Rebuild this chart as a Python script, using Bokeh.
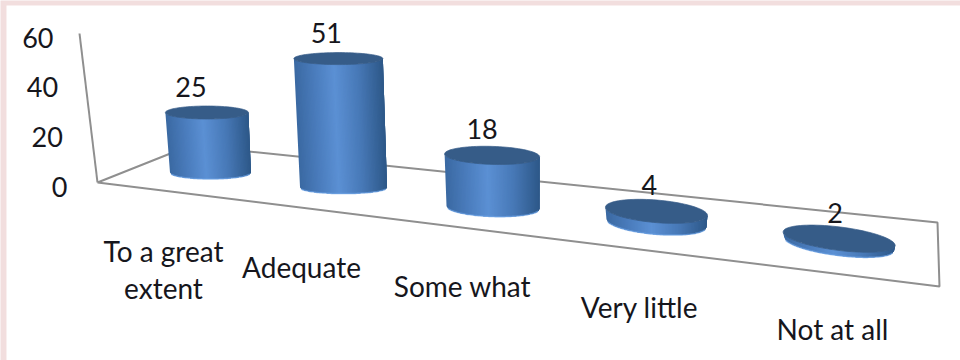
import numpy as np
from bokeh.embed import file_html
from bokeh.models import Range1d
from bokeh.plotting import figure
from bokeh.resources import INLINE
from bokeh.core.properties import value

# ---- data ----
categories = ["To a great\nextent", "Adequate", "Some what", "Very little", "Not at all"]
values = [25, 51, 18, 4, 2]
y_ticks = [0, 20, 40, 60]

# ---- layout (pixel-like scene space of the 3-D projection) ----
FLOOR = [(97, 182), (939, 286), (937, 222), (190, 145)]   # front-left, front-right, back-right, back-left
AXIS_TOP = (79, 33)
V_MAX = 60
BAR_U = [0.112, 0.3125, 0.514, 0.710, 0.904]
BAR_V = 0.45
BAR_DY = [0, 0, 3, 0, 0]
BAR_SCALE = [2.4, 2.53, 2.9, 2.95, 2.6]
RX = [40.5, 43.5, 46.5, 50.0, 55.0]
RY = [6.5, 6.0, 9.0, 11.3, 11.8]
TILT = [0.0, 0.0, 0.03, 0.08, 0.12]
LABEL_CX = [163, 301, 462, 639, 832]
LABEL_CY = [268.5, 266.5, 285.5, 306.5, 328.5]
LABEL_DX = [-16, -12, -10, -7, -4]
LINE_STEP = 37
FONT = "Lato"
FS = "28px"
FS_NUM = "27px"
INK = "#16161c"
GRID = "#8f8f8f"
TOP_COLOR = "#365c88"
RIM_COLOR = "#6aa0e2"
PAGE_PINK = "#f2dede"
SHADE_U = [-1.0, -0.55, -0.1, 0.45, 1.0]
SHADE_C = [(0x3a, 0x69, 0xa2), (0x4a, 0x7c, 0xbc), (0x5b, 0x90, 0xd4), (0x47, 0x78, 0xb6), (0x2d, 0x58, 0x88)]


def floor_xy(u, v):
    (x0, y0), (x1, y1), (x2, y2), (x3, y3) = FLOOR
    dx1, dx2, sx = x1 - x2, x3 - x2, x0 - x1 + x2 - x3
    dy1, dy2, sy = y1 - y2, y3 - y2, y0 - y1 + y2 - y3
    den = dx1 * dy2 - dx2 * dy1
    g = (sx * dy2 - dx2 * sy) / den
    h = (dx1 * sy - sx * dy1) / den
    a, b = x1 - x0 + g * x1, x3 - x0 + h * x3
    d, e = y1 - y0 + g * y1, y3 - y0 + h * y3
    w = g * u + h * v + 1
    return (a * u + b * v + x0) / w, (d * u + e * v + y0) / w


def shade(u):
    rgb = [np.interp(u, SHADE_U, [c[k] for c in SHADE_C]) for k in range(3)]
    return "#%02x%02x%02x" % tuple(int(round(c)) for c in rgb)


p = figure(width=960, height=360, x_range=Range1d(0, 960), y_range=Range1d(360, 0),
           x_axis_location=None, y_axis_location=None, toolbar_location=None,
           output_backend="svg", min_border=0, outline_line_color=None,
           background_fill_color=PAGE_PINK, border_fill_color=PAGE_PINK)
p.grid.visible = False

# white panel inside the pink page band
p.quad(left=[6], right=[960], top=[5], bottom=[360], fill_color="white", line_color=None)

# floor and slanted value axis
quad_x = [c[0] for c in FLOOR] + [FLOOR[0][0]]
quad_y = [c[1] for c in FLOOR] + [FLOOR[0][1]]
p.line(quad_x, quad_y, line_color=GRID, line_width=2)
p.line([FLOOR[0][0], AXIS_TOP[0]], [FLOOR[0][1], AXIS_TOP[1]], line_color=GRID, line_width=2)

# value-axis tick labels
for t in y_ticks:
    p.text([67 - 14 * t / V_MAX], [186 - 149 * t / V_MAX], text=[str(t)], text_font=value(FONT),
           text_font_size=FS_NUM, text_color=INK, text_align="right", text_baseline="middle")

# cylinders
STRIPS = 70
for i, val in enumerate(values):
    bx, by = floor_xy(BAR_U[i], BAR_V)
    by += BAR_DY[i]
    rx, ry, tilt = RX[i], RY[i], TILT[i]
    h = val * BAR_SCALE[i]
    lean = max(0.06 - 0.00015 * (bx - 210), 0) * h
    tx, ty = bx - lean, by - h
    rt = rx + 1

    edges = np.linspace(-1, 1, STRIPS + 1)
    arc = np.sqrt(np.clip(1 - edges ** 2, 0, 1))
    xs, ys, cols = [], [], []
    for s in range(STRIPS):
        # painted left to right; each strip overlaps the next ones so no seams show
        e = min(s + 4, STRIPS)
        seg = np.arange(s, e + 1)
        xs.append(np.r_[bx + rx * edges[seg], tx + rt * edges[seg][::-1]])
        ys.append(np.r_[by + ry * arc[seg] + tilt * rx * edges[seg],
                        (ty + ry * arc[seg] + tilt * rt * edges[seg])[::-1]])
        cols.append(shade((edges[s] + edges[s + 1]) / 2))
    p.patches(xs, ys, fill_color=cols, line_color=None)

    rim_u = np.linspace(-0.97, 0.97, 60)
    p.line(bx + rx * rim_u, by + ry * np.sqrt(1 - rim_u ** 2) + tilt * rx * rim_u,
           line_color=RIM_COLOR, line_width=1.5, line_alpha=0.7)

    t_ang = np.linspace(0, 2 * np.pi, 90)
    p.patch(tx + rt * np.cos(t_ang), ty + ry * np.sin(t_ang) + tilt * rt * np.cos(t_ang),
            fill_color=TOP_COLOR, line_color=TOP_COLOR, line_width=0.7)

    # value label
    p.text([tx + LABEL_DX[i]], [ty - 26], text=[str(val)], text_font=value(FONT), text_font_size=FS_NUM,
           text_color=INK, text_align="center", text_baseline="middle")

    # category label
    lines = categories[i].split("\n")
    for k, line in enumerate(lines):
        yy = LABEL_CY[i] + (k - (len(lines) - 1) / 2) * LINE_STEP
        p.text([LABEL_CX[i]], [yy], text=[line], text_font=value(FONT), text_font_size=FS,
               text_color=INK, text_align="center", text_baseline="middle")

open("out.html", "w").write(file_html(p, INLINE))
